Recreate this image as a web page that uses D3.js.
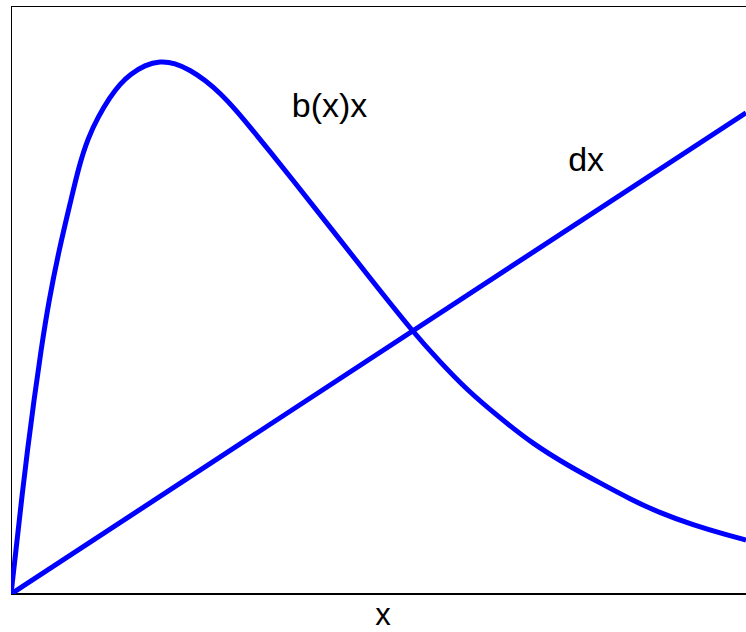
<!DOCTYPE html>
<html>
<head>
<meta charset="utf-8">
<script src="https://cdn.jsdelivr.net/npm/d3@7"></script>
<style>
  html, body { margin: 0; padding: 0; background: #fff; overflow: hidden; }
  svg { display: block; }
  text { font-family: "Liberation Sans", Arial, Helvetica, sans-serif; fill: #000; }
</style>
</head>
<body>
<script>
// Curve b(x)x (x and y in normalised plot units 0..1)
const bxX = [0, 0.0068, 0.0143, 0.0224, 0.0313, 0.0408, 0.0517, 0.0653, 0.0816, 0.0925,
  0.1048, 0.1184, 0.1347, 0.1483, 0.1619, 0.1823, 0.2027, 0.2231, 0.2435, 0.2639, 0.2844,
  0.3048, 0.3252, 0.3524, 0.3796, 0.4340, 0.4884, 0.5469, 0.5837, 0.6204, 0.6653, 0.7102,
  0.7565, 0.8014, 0.8422, 0.8830, 0.9279, 0.9741, 1.0];
const bxY = [0, 0.0748, 0.1599, 0.2449, 0.3299, 0.4150, 0.5, 0.5850, 0.6701, 0.7279,
  0.7755, 0.8112, 0.8452, 0.8673, 0.8835, 0.8997, 0.9065, 0.9031, 0.8912, 0.8741, 0.8520,
  0.8248, 0.7942, 0.7525, 0.7100, 0.6241, 0.5374, 0.4456, 0.3946, 0.3469, 0.2993, 0.2551,
  0.2194, 0.1888, 0.1616, 0.1378, 0.1173, 0.1003, 0.0918];
// Line dx
const dxX = [0, 1.0];
const dxY = [0, 0.8185];
const labels = { curve: "b(x)x", line: "dx", xAxis: "x" };

const W = 746, H = 632;
const margin = { left: 11, top: 6, right: 0, bottom: 38 };
const svg = d3.select("body").append("svg").attr("width", W).attr("height", H);

const x = d3.scaleLinear().domain([0, 1]).range([margin.left, W - margin.right]);
const y = d3.scaleLinear().domain([0, 1]).range([H - margin.bottom, margin.top]);

svg.append("defs").append("clipPath").attr("id", "clip")
  .append("rect").attr("x", margin.left).attr("y", margin.top - 3)
  .attr("width", W - margin.left + 10).attr("height", H - margin.bottom - margin.top + 3);

// frame
svg.append("line").attr("x1", x(0)).attr("x2", W + 5).attr("y1", y(1) + 0.5).attr("y2", y(1) + 0.5)
  .attr("stroke", "#000").attr("stroke-width", 1);
svg.append("line").attr("x1", x(0) + 0.5).attr("x2", x(0) + 0.5).attr("y1", y(1)).attr("y2", y(0))
  .attr("stroke", "#000").attr("stroke-width", 1);
svg.append("line").attr("x1", x(0)).attr("x2", W + 5).attr("y1", y(0)).attr("y2", y(0))
  .attr("stroke", "#000").attr("stroke-width", 2.2);

const g = svg.append("g").attr("clip-path", "url(#clip)");

const straight = d3.line().x(d => x(d[0])).y(d => y(d[1]));
const smooth = d3.line().x(d => x(d[0])).y(d => y(d[1])).curve(d3.curveBasis);

g.append("path").datum(dxX.map((v, i) => [v, dxY[i]]))
  .attr("d", straight).attr("fill", "none").attr("stroke", "#0000ff").attr("stroke-width", 5);
g.append("path").datum(bxX.map((v, i) => [v, bxY[i]]))
  .attr("d", smooth).attr("fill", "none").attr("stroke", "#0000ff").attr("stroke-width", 5)
  .attr("stroke-linejoin", "round");

svg.append("text").attr("x", x(0.382)).attr("y", y(0.811)).attr("font-size", 34).text(labels.curve);
svg.append("text").attr("x", x(0.758)).attr("y", y(0.719)).attr("font-size", 34).text(labels.line);
svg.append("text").attr("x", x(0.506)).attr("y", 625).attr("font-size", 31)
  .attr("text-anchor", "middle").text(labels.xAxis);
</script>
</body>
</html>
